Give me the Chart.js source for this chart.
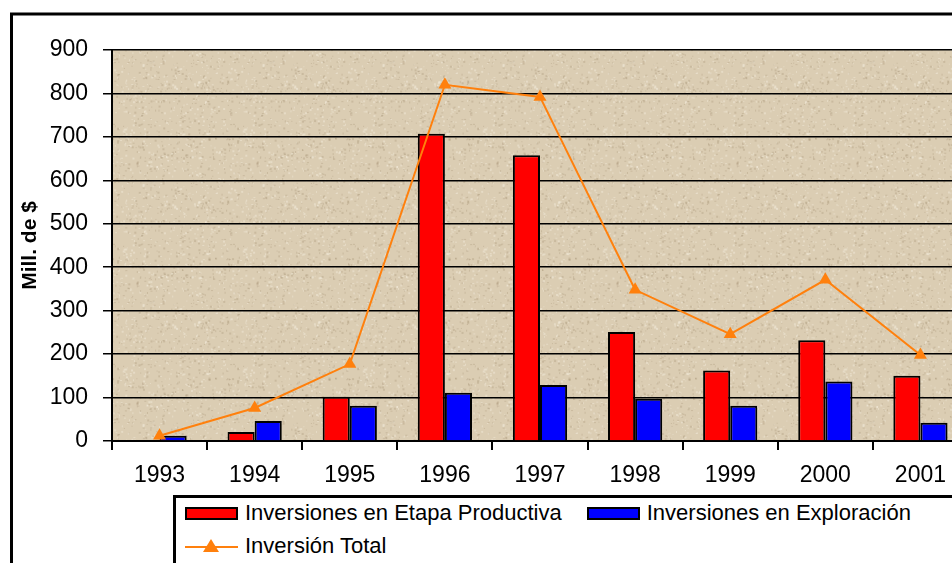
<!DOCTYPE html>
<html>
<head>
<meta charset="utf-8">
<script src="https://cdn.jsdelivr.net/npm/chart.js@4.4.0/dist/chart.umd.min.js"></script>
<style>
    html, body { margin: 0; padding: 0; background: #fff; overflow: hidden; width: 952px; height: 563px; }
    #wrap { position: absolute; left: 0; top: 0; width: 1000px; height: 563px; }
    #legend {
        position: absolute; left: 173px; top: 495px; width: 900px; height: 120px;
        border: 3px solid #000; background: #fff;
        font-family: "Liberation Sans", Arial, sans-serif; font-size: 22px; color: #000;
    }
    .row { position: absolute; left: 9px; height: 26px; display: flex; align-items: center; white-space: nowrap; }
    .sw { display: inline-block; width: 49px; height: 9px; border: 2px solid #000; margin-right: 7px; }
    .gap { display: inline-block; width: 25px; }
</style>
</head>
<body>
<div id="wrap">
    <canvas id="chart" width="1000" height="563"></canvas>
</div>
<div id="legend">
    <div class="row" style="top: 2px;"><span class="sw" style="background:#ff0000"></span>Inversiones en Etapa Productiva<span class="gap"></span><span class="sw" style="background:#0000ff"></span>Inversiones en Exploración</div>
    <div class="row" style="top: 35px;">
        <svg width="53" height="20" style="margin-right:7px">
            <line x1="0" y1="11" x2="53" y2="11" stroke="#ff800d" stroke-width="2"/>
            <polygon points="26,3 34,16 18,16" fill="#ff800d"/>
        </svg>Inversión Total
    </div>
</div>
<script>
const years = ['1993', '1994', '1995', '1996', '1997', '1998', '1999', '2000', '2001'];
const productiva = [0, 21, 102, 707, 658, 251, 162, 232, 150];
const exploracion = [12, 46, 81, 111, 129, 97, 81, 137, 42];
const total = [12, 76, 177, 820, 792, 348, 246, 371, 198];

const FONT = '"Liberation Sans", Arial, sans-serif';

// textura arena del area del grafico (puntitos fijos, solo decoracion)
function sandPattern(c) {
    const p = document.createElement('canvas');
    p.width = 120; p.height = 120;
    const g = p.getContext('2d');
    g.fillStyle = '#dbcdb3';
    g.fillRect(0, 0, 120, 120);
    let s = 7;
    const next = () => { s = (s * 1103515245 + 12345) % 2147483648; return s / 2147483648; };
    for (let i = 0; i < 900; i++) {
        const x = next() * 120, y = next() * 120, v = next();
        g.fillStyle = v < 0.5 ? 'rgba(150,130,100,0.25)' : 'rgba(245,238,222,0.45)';
        g.fillRect(x, y, 1 + Math.floor(next() * 2), 1 + Math.floor(next() * 2));
    }
    return c.createPattern(p, 'repeat');
}

const frame = {
    id: 'frame',
    beforeDraw(chart) {
        const ctx = chart.ctx;
        const a = chart.chartArea;
        ctx.save();
        ctx.fillStyle = '#ffffff';
        ctx.fillRect(0, 0, chart.width, chart.height);
        ctx.lineWidth = 3;
        ctx.strokeStyle = '#000';
        ctx.strokeRect(11.5, 14, 1100, 700);
        ctx.fillStyle = sandPattern(ctx);
        ctx.fillRect(a.left, a.top, a.right - a.left, a.bottom - a.top);
        ctx.restore();
    }
};

const ctx = document.getElementById('chart').getContext('2d');
new Chart(ctx, {
    type: 'bar',
    data: {
        labels: years,
        datasets: [
            {
                type: 'line',
                label: 'Inversión Total',
                data: total,
                borderColor: '#ff800d',
                backgroundColor: '#ff800d',
                borderWidth: 2,
                pointStyle: 'triangle',
                pointRadius: 7.5,
                pointBorderWidth: 0,
                tension: 0,
                order: 0
            },
            {
                label: 'Inversiones en Etapa Productiva',
                data: productiva,
                backgroundColor: '#ff0000',
                borderColor: '#000',
                borderWidth: 2,
                order: 1
            },
            {
                label: 'Inversiones en Exploración',
                data: exploracion,
                backgroundColor: '#0000ff',
                borderColor: '#000',
                borderWidth: 2,
                order: 1
            }
        ]
    },
    options: {
        responsive: false,
        animation: false,
        datasets: { bar: { categoryPercentage: 0.57, barPercentage: 1 } },
        layout: { padding: { left: 12, top: 50, right: 32, bottom: 0 } },
        scales: {
            x: {
                afterFit(scale) { scale.height = 122; },
                grid: { offset: true, drawOnChartArea: false, color: '#000', lineWidth: 2, tickLength: 9 },
                border: { color: '#000', width: 2 },
                ticks: { color: '#000', padding: 12, font: { family: FONT, size: 23 } }
            },
            y: {
                min: 0,
                max: 900,
                afterFit(scale) { scale.width = 100; },
                ticks: { stepSize: 100, color: '#000', padding: 15, font: { family: FONT, size: 23 } },
                grid: { color: '#000', lineWidth: 1.5, tickLength: 9 },
                border: { color: '#000', width: 2 },
                title: {
                    display: true,
                    text: 'Mill. de $',
                    color: '#000',
                    padding: { top: 6, bottom: 0 },
                    font: { family: FONT, size: 21, weight: 'bold' }
                }
            }
        },
        plugins: {
            legend: { display: false },
            tooltip: { enabled: false }
        }
    },
    plugins: [frame]
});
</script>
</body>
</html>
